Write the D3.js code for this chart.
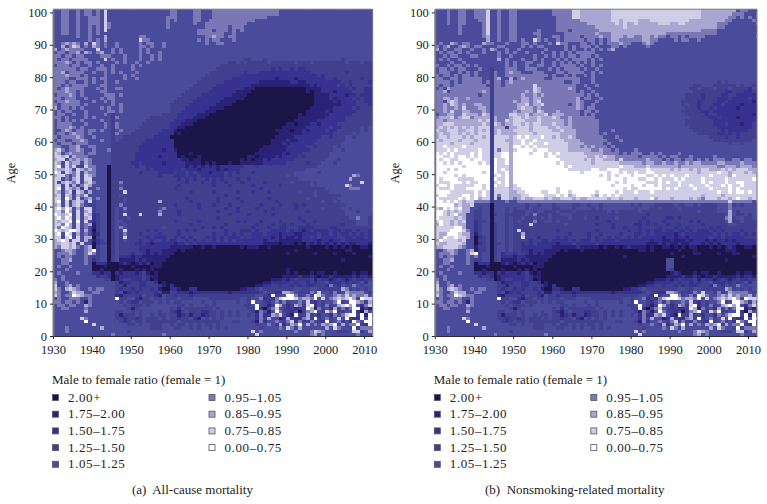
<!DOCTYPE html>
<meta charset="utf-8">
<style>
  body { margin: 0; background: #fff; }
  text { font-family: "Liberation Serif", serif; fill: #222; }
</style>
<body>
<script src="https://d3js.org/d3.v7.min.js"></script>
<script>
// ratio classes, darkest first; cell strings below hold an index into these
var classLabels = ["2.00+", "1.75\u20132.00", "1.50\u20131.75", "1.25\u20131.50", "1.05\u20131.25",
                   "0.95\u20131.05", "0.85\u20130.95", "0.75\u20130.85", "0.00\u20130.75"];
var classColors = ["#1b1647", "#2a2277", "#37328f", "#41408f", "#4b4b9b",
                   "#7a77b6", "#a9a7d1", "#d0cee6", "#ffffff"];
var xTicks = [1930, 1940, 1950, 1960, 1970, 1980, 1990, 2000, 2010];
var yTicks = [0, 10, 20, 30, 40, 50, 60, 70, 80, 90, 100];

// one string per age, 100 down to 0; groups are 193x 194x ... 201x
var allCauseRows = [
"4455445455 4547444444 4444444444 5544445544 4555555555 5555555544 4444444444 4444444444 444",
"4455445455 4547444444 4444444444 5544445544 4555555555 5555555544 4444444444 4444444444 444",
"4455445445 5547444444 4444444445 5544445544 4555555555 5555544444 4444444444 4444444444 444",
"4455445445 5547444444 4444444445 4544445544 5555555555 5544444444 4444444444 4444444444 444",
"4455445445 5547544444 4444444445 4444445445 5555555555 4444444444 4444444444 4444444444 444",
"4455445445 4547544444 4444444445 4444444445 5555545554 4444444444 4444444444 4444444444 444",
"4455445445 4547444444 4444444444 4444444555 5455545454 4444444444 4444444444 4444444444 444",
"4455445445 4544444444 4444444444 4444444555 5555445444 4444444444 4444444444 4444444444 444",
"4444445445 4446444444 4455444444 4444444445 5655455444 4444444444 4444444444 4444444444 444",
"4444444445 4546444444 4475544444 4444444545 4554445444 4444444444 4444444444 4444444444 444",
"4456565464 7545445444 4454554454 4444444445 4455444444 4444444444 4444444444 4444444444 444",
"4464576454 6545445444 4455454454 4444444444 4444444444 4444444444 4444444444 4444444444 444",
"6456555544 4744454544 4454544444 4444444444 4444444444 4444444444 4444444444 4444444444 444",
"4554556465 4564454544 4454544544 4444444444 4444444444 4444444444 4444444444 4444444444 444",
"5545545544 4455544454 4454454544 4444444444 4444444444 4444444444 4444444444 4444444444 444",
"5455455554 4447454454 4454454544 4444444444 4444444443 3444344444 4444444444 4444344444 444",
"5556545455 4544445454 4544544444 4444444444 4444433434 3333343333 3343334333 3333343334 334",
"4555455445 4454454444 5454444444 4444444444 4443333333 3333333333 3333333333 3333333333 333",
"5555554554 4555454444 5444444444 4444444444 4433333333 3333332323 3232233333 3333333333 333",
"5564555544 5445454544 4544444444 4444444444 3333333332 3332222222 2222223333 3333323333 333",
"5556555454 4445444454 5444444444 4444444443 3333333322 2222222222 2222222232 3333333333 333",
"5555445554 5455444454 4544444444 4444444433 3333332222 2222222122 2212222222 3323333332 333",
"5554554454 5445445444 4444444444 4444444333 3333222222 2221111111 1221122222 2222332333 323",
"5545455554 4455444444 4444444444 4444443333 3322222222 2111111111 1111112122 2223232333 333",
"5456555544 4545445544 4444444444 4444433333 3222222221 1100000000 0000011112 2222223233 223",
"5556554544 4455444444 4444444444 4444333333 2222222111 1000000000 0000010112 2212222333 223",
"4555654544 4445554544 4444444444 4443333322 2222221111 0000000000 0000000111 1222212232 223",
"5545554454 4454554444 4444444444 4433333222 2222111110 0000000000 0000000111 1212222323 223",
"4556555444 5445454444 4444444444 4333332222 2221111000 0000000000 0000000111 1121222233 223",
"5455555454 4444454544 4444444444 3333322222 2211110000 0000000000 0000000111 1111222233 323",
"6455454544 4454544544 4444444444 3333222222 1111000000 0000000000 0000001111 1122222323 333",
"4545544454 4444554544 4444444444 3332222221 1100000000 0000000000 0000011111 2122222233 333",
"4554454454 4445434444 4444444433 3322222111 0000000000 0000000000 0001011111 1222222333 333",
"5545444454 5444435444 4444433333 3322221110 0000000000 0000000000 0001111111 2222233333 334",
"4545454544 4454434444 4444333333 3222111000 0000000000 0000000000 0011111122 2222233333 334",
"4555544454 4445435444 4443333333 2221110000 0000000000 0000000000 1101112212 2223333333 334",
"4555654544 4445435444 4433333333 2211000000 0000000000 0000000001 1111122222 2322333334 344",
"4456545545 5454434544 4333333322 2100000000 0000000000 0000000111 1011212222 3223333334 344",
"4554565545 4444435444 3333333222 2010000000 0000000000 0000000011 1111222222 2233333434 444",
"5455556544 5444434433 3333332222 0000000000 0000000000 0000000111 1122222223 3233344344 444",
"4554455654 4454434333 3333222222 2000000000 0000000000 0000001111 2112222233 3333344444 444",
"5455545554 4444433333 3332222222 2000000000 0000000000 0000001112 1222222333 3333444444 444",
"5544556445 5444433333 3322222222 2000000000 0000000000 0000111111 2222233233 3343444444 444",
"6754556544 5444533333 3322222212 2100000000 0000000000 0001111111 2222223333 3344344444 444",
"7645655545 5444433333 3222222222 2200010000 0000000000 0011111112 1222333333 3444444444 444",
"7767465554 4444433333 3222222122 2201000100 0000000000 1101111212 2223233333 3444444444 444",
"6774656565 4444433333 3222222222 2221101100 0000000010 1011212222 2233333333 4443444444 444",
"7647566465 4444433333 2232222212 2222111101 0100010011 1111222222 3333323334 4434444444 444",
"7847574375 5444033333 3233222222 2222121212 1212222223 3323333333 3333333344 4444444444 444",
"7667647656 5444033333 3333232222 2223222122 2212122233 3333333333 3333344444 4444444444 444",
"8747657465 5444033333 3323333222 2322323222 1222323233 3233333333 3344444434 4444444444 444",
"6775457476 5444033333 3333333233 3222322322 2222323333 3333333333 4344444444 4444444654 444",
"7745467477 4444033333 3333333333 3323232332 3232333233 2333333333 3334444444 4444446444 445",
"7467657467 5444033533 3333333333 3333233323 3233233323 3333233333 3433334344 4444444447 444",
"7747464576 4444033433 3333333333 3323333333 3233323333 3233333323 3333334344 4444475444 444",
"7847656374 4544033533 3333333333 3233333333 3333333333 3332333333 3333333333 4444445554 445",
"7646737646 4444033373 3333333333 3333323333 3233333233 3233323333 3334333433 3444444444 444",
"6747646574 4444033433 3333333333 3333333333 3333233333 3333333333 3333333433 3333444444 444",
"7748647456 4544033343 3333333333 3333233333 3323333233 3333323333 3333343333 3334444444 444",
"7847467647 3444033343 3333333633 3333323333 3323333323 3333333233 3333333334 3343444444 445",
"6747467543 3444033533 3333333333 3233333233 3233323333 3332333323 3323233333 3333344444 444",
"7868746477 3444034353 3333333453 3333333233 3333233233 3323332333 3323333334 3333443444 445",
"7758647467 3444034343 3333333533 3323333333 3323333233 3333233333 3333323333 3333344434 444",
"8767847476 2344034373 3373333633 3323333333 3333323333 2333332333 3333333333 3333344444 443",
"7868747467 2344034334 3333333333 3333333333 3323333333 3333333333 3332333333 3333334454 433",
"7677848474 2344034433 3333333333 3233333233 3333333232 3332333323 3333233233 3333333344 433",
"7758647456 1344034343 3333333333 3333323333 3333233333 3323332332 3233323333 3333233344 433",
"7587647454 1344034543 3333333343 3333333323 3232333333 3233323322 3332222333 3223333333 333",
"8767887464 0344034373 3333232333 3323232333 3333233322 2323332222 3232123222 2322322323 323",
"7848746454 1244034353 3323333233 3323333333 3233232323 3222322212 2211222232 2323223232 322",
"7747847466 0344034373 3333232223 3232323332 3232322232 3222221212 1121223232 2223322322 322",
"6787477464 1234034343 3323323323 2233232323 3232323222 2222122211 1111222212 2122322222 223",
"6677674744 0233034333 3223212222 2122323222 2222222222 2222111101 1101021212 1212121122 212",
"6577675456 0344034333 3322222222 1111110010 0100000010 1110010000 0000010000 1010101001 101",
"4456654456 8344034333 3322122211 1101000000 0000000000 0000000000 0010000000 0000011000 000",
"4555654457 5344034333 2332121211 1000000000 0000000000 0000000000 1000000100 0010000100 000",
"4545544454 3344034222 1221111111 0000000000 0000000000 0000000000 0000000000 0000000000 010",
"4455644454 2344034111 1212111110 0000000000 0000000000 0000000000 0000000000 0000100000 000",
"4455444454 0222000121 0121201100 0000000000 0000000000 0000000000 0000000000 0000000000 000",
"4544544444 0001000000 1000011100 0000000000 0000000000 0000000000 0000000000 0000000000 000",
"4445444444 0010000100 0101010000 0000000000 0000000000 0000000000 1000000000 0000000000 000",
"4544445444 2212202122 2123101000 0000000000 0000000000 0000000000 1010001011 0010000101 101",
"4454444444 4233201222 2223211000 0000000000 0000000000 0000000001 1112112101 1211111212 212",
"5454444444 4443301233 2223201000 0000000000 0000000000 0000001112 1232223132 2123212322 332",
"6445444444 4444443122 3322332010 0000000000 0000000000 0000112222 2323323233 4222323234 243",
"7445645444 4444443313 3322333210 2000000000 0000000000 0011223323 3232322333 2532433543 443",
"7546765445 4554443233 2323323100 2210022000 0000000011 2234333333 3344334433 3333653434 344",
"6544576644 5544443412 3233332311 3322212222 2222212222 2223433226 6543335474 4353465555 433",
"7545587655 4444442133 3324332143 3233323333 3333333333 3344328344 8853453875 4456575655 646",
"4544555445 4444448334 4213343343 3343334444 3333333344 3445232578 8875665847 4567678638 778",
"5545545415 4444444343 2243334343 4334444434 4344444344 3844324535 3445473243 4458348865 363",
"4554554465 4444444434 3334344444 4433434443 4344444443 3484313864 2365378243 5346786842 575",
"4455444454 4444444443 1344444444 3424333333 3434444444 3382035743 2322386153 4263535881 314",
"4444444464 4444443344 3434444344 3213433322 3343434344 4315414853 3240356843 7583344820 643",
"4444444444 4444443133 3434434334 3312313312 3343434344 3425226574 2183363424 4254578838 183",
"4444444754 4444443323 3234333434 3323342143 4343444444 4425364412 6322563834 5347483228 487",
"4444444484 4444444323 4334333333 3343333333 3334443344 4315244543 5725335432 8345342854 882",
"4444444444 7444444443 3434433344 3433434343 3434444444 4434454362 4658464546 5683645583 283",
"4445444444 4464444444 4444433344 4334434344 3434344444 4443444454 7536444444 6475443835 555",
"4445444444 4444444443 4444444444 4444444444 4444444444 4745444444 4454445765 4443334773 465",
"4444444444 4444454444 4444444454 4444444444 4444444444 4474444444 4444445645 4444444454 444"
];

var nonsmokingRows = [
"4445445544 5557445445 5444444444 5555577666 6666677777 7777777777 7777777766 6666666455 444",
"4445445544 5557445445 5444444444 5555577666 6666677777 7777777777 7777777766 6666665554 445",
"4445445544 5557445445 5444444444 4555577666 6666677777 7777777777 7777777766 6666655454 545",
"4445445544 4557445445 5444444444 4555555666 6666677677 7766677777 7777766666 6666554444 454",
"4445445544 4457445445 5444444444 4555555556 6666667676 6766666777 6677666666 6655544444 445",
"4444445444 4457445445 5444444444 4555555555 5666666676 6666666666 6666666666 6655444444 444",
"4444445444 4457445445 5444445444 4555455555 5566666666 6666666666 6666666655 5544444444 444",
"4444445444 4457445445 5444455444 4445555555 5655566666 6666666665 5555555555 5544444444 444",
"4444444444 4456445445 5444445444 5545555455 5565566656 6556656554 5545455554 4444444444 445",
"4444444444 4446445445 5454475454 4545555545 5454566555 5556655444 4545544544 4444444444 444",
"4544654554 4465544454 4455454445 4755444554 5454555655 4445654444 4444444444 4444444444 444",
"5456445654 5544445544 4454545544 4445454555 4544455454 4444544444 4444444444 4444444444 444",
"6454455445 4454654454 4544444454 4445454454 5454564444 4444444444 4444444444 4444444444 444",
"4545545454 4454445454 5445444544 5454545555 5444444444 4444444444 4444444444 4444444444 444",
"4454554445 5444445445 4444454454 5454554555 4544444444 4444444444 4444444444 4444444444 444",
"4545445444 4444446454 4454454544 4545455554 5454444444 4444444444 4444444444 4444444444 444",
"4444544544 4444444454 5445544544 5454545454 5444444444 4444444444 4444444444 4444444444 444",
"5445455454 5444444454 5445445544 5455554544 5454444444 4444444444 4444444444 4444444444 444",
"4554545544 4544344455 5445554445 4545555454 4544444444 4444444444 4444444444 4444444444 444",
"4555445454 5444354456 5544455544 4554555544 5454444444 4444444444 4444444444 4444444444 444",
"5455454554 5444354455 5555555554 5445454454 5444444444 4444444444 4444444444 4444444444 444",
"5544554555 5544356446 4565555544 5555555444 5444444444 4444444444 4444444444 4444444444 444",
"5555454555 5545355456 5555555555 5554455444 5444444444 4444444444 4444444444 4434344444 444",
"5455455555 5554355455 5555575555 5555554454 4544444444 4444444444 4444443344 4333333434 434",
"4546555555 5555355555 5555576555 5555654445 4444444444 4444444444 4444433433 3433343333 243",
"5564555555 5565355555 5556576555 5555554544 5444444444 4444444444 4444443333 3333223332 233",
"5555555555 5455355555 5565565655 5555555545 4544444444 4444444444 4444333323 3332233222 222",
"5566565565 5555355555 5566566555 5555556455 4454444444 4444444444 4444333323 3322232222 322",
"5546765555 5555355555 6566567555 5555556544 4544444444 4444444444 4443333233 3322322222 212",
"5565765655 6655355555 5667566755 5555456544 5444444444 4444444444 4443433233 3223222212 222",
"5565565755 5665355555 5676656555 5555556545 5444444444 4444444444 4444333233 2322222122 222",
"5565755665 5565355555 6566657655 5655555455 4544444444 4444444444 4443333322 3222222222 222",
"4556655766 6576355557 7667566675 6665555454 5444444444 4444444444 4444333332 3322222222 212",
"5666756775 6666365556 7767667666 7655655555 5444444444 4444444444 4444433333 2232222122 222",
"6656666666 6767365576 7776667666 6665655555 5544444444 4444444444 4444333333 3222222222 223",
"6677766666 6676376566 7767677666 7665655555 5544444444 4444444444 4444333333 3222322212 233",
"6767676767 6777366636 6777677776 6766655555 5544444444 4444444444 4444433333 3322222222 233",
"7667776677 6767367666 7777677777 6676665555 5544454444 4444444444 4444443333 3332322222 333",
"6766776767 6777367666 6777767777 7766665555 5545444444 4444444444 4444444333 3322323233 333",
"6776777676 7767377776 7878777877 6766765555 5554445444 4444444444 4444444444 3333233233 333",
"7677776777 6777377766 7787787777 7776666555 5555444544 4444444444 4444444444 4333333333 343",
"7777677776 7777377776 7787877787 7777666655 5554544444 4444444444 4444444444 4444434434 444",
"7787777877 7777377776 8878787777 7777666565 6555454444 4444444444 4444444444 4444444444 444",
"7778787777 7877375776 7888878887 7777666666 5565545444 4544444444 4444444444 4444444444 444",
"8787877778 7877377886 8888788878 7877777766 6665555454 5554454544 4454444444 4444444444 444",
"8877878878 7877377886 8888888878 8777777776 6767665555 5545555454 5544454444 4544444444 444",
"8788778887 8877387786 8888888888 8877777767 6776665755 5555655545 4554554545 4555445545 544",
"8878787888 8787387786 8888888888 8787777777 6777777666 6665665565 5655656655 5566555565 555",
"8888888788 8888387776 8888888888 8887877777 7777777877 7666766666 6656666666 6655666566 655",
"8887878888 8888387876 8888888888 8888777777 8877888777 7777877777 6767767677 6667676777 667",
"8878888888 8878387786 8888888888 8888888788 8888788787 7877887777 7777777677 7787767776 766",
"8888878788 8888378786 8888888888 8888888888 8878787888 7888778787 8777877777 8777768777 776",
"8788887777 8888387786 8888888888 8888888888 8888788878 8877887877 7878777787 7777877777 787",
"8777888787 7888378786 8888888888 8888888888 8888887878 8888777878 7787777787 8777877887 777",
"7887877777 8878387786 7888888888 8888888888 8888878888 7887887877 7787787778 7778787787 777",
"8777877788 8878377776 7788888888 8788888888 8888888878 7788888878 7877778777 8777787877 777",
"8888777777 8787377776 6778888778 8788788888 8788887877 7877787777 7777777777 7787787887 877",
"7887777887 8787375776 6677888877 7878678888 7687878777 7777777777 7777777767 7776777777 777",
"8777778787 8677374776 5676677767 6677767667 7777677677 7677786777 6777767657 7767767877 677",
"8878787677 5555344454 4555555555 5555555555 5555555555 5555555555 5555555555 5555575555 545",
"8888867667 4444044444 4443443444 3444433443 4434444444 3434443333 3433443433 3344453434 444",
"7687878664 4344044434 3443434444 3344434444 3434444444 4344433433 3343333333 3344454444 444",
"8876767664 3344044434 3334434433 3433343333 3333434333 3343333333 3333333433 3344464344 444",
"8876786644 3344034433 3334353334 3344433333 3333333333 3333233333 3333333333 3333464334 344",
"8777767644 3344044434 3343343434 3333433343 3233334333 3332333332 2323333333 3333563443 343",
"7877676744 2334044434 3433353344 3433333333 3333233333 3323233323 3333323233 3333463343 332",
"6877676644 2344034434 3333733333 3334333333 3233323333 3223232332 3323333323 3333344333 332",
"7777788644 2344034434 3333333333 3333333333 3333323323 3323333233 3233233333 2323333333 332",
"7777888754 2344034434 3733333333 3233333333 3233333332 3323232232 2322323222 3232333323 333",
"7668887664 1344034434 3363333333 3333233332 3323333233 3223232222 2123222222 2323232232 323",
"7687787764 0234034434 3373332333 3232333332 3233232332 3232222212 2122122222 3223222223 332",
"6877776744 0334034434 3333233223 2222323222 3232223222 2222212211 2111212221 2122121222 222",
"7667777644 0234033434 3323232222 2122232222 2322222222 2222111212 1121122212 1212222122 222",
"6677776544 1334034434 3322222222 1111112111 1101001012 1111010011 0101011000 1010121001 101",
"4456654456 1334034434 3322122211 1101000100 0000000000 0011010000 0010001000 0000111000 000",
"4555654457 8344034233 2332121211 1000000000 0000000000 0000000000 1000001100 0010001100 000",
"4545544454 5344034222 1221111111 0000000000 0000000010 0000000000 0001000000 0000000000 010",
"4455644454 3344034111 1212111110 0000000000 0000000000 0000000004 4000000000 0000100000 000",
"4455444454 0222000121 0121201100 0000000000 0000000000 0000000004 4000000000 0000000000 000",
"4544544444 0001000000 1000011100 0000000000 0000000000 0000000004 4000000000 0000000000 000",
"4445444444 0010000100 0101010000 0000000000 0000000000 0000000004 3000000000 0000000000 000",
"4544445444 2212202122 2123101000 0000000000 0000000000 0000000000 1210001011 0010000101 101",
"4454444444 4233201222 2223211000 0000000000 0000000000 0000000001 1112112101 1211111212 212",
"5454444444 4443301233 2223201000 0000000000 0000000000 0000001112 1232223132 2123212322 332",
"6445444444 4444443122 3322332010 0000000000 0000000000 0000112222 2323323233 4222323234 243",
"7445645444 4444443313 3322333210 2000000000 0000000000 0011223323 3232322333 2532433543 443",
"7546765445 4554443233 2323323100 2210022000 0000000011 2234333333 3344334433 3333653434 344",
"6544576644 5544443412 3233332311 3322212222 2222212222 2223433226 6543335474 4353465555 433",
"7545587655 4444442133 3324332143 3233323333 3333333333 3344328344 8853453875 4456575655 646",
"4544555445 4444448334 4213343343 3343334444 3333333344 3445232578 8875665847 4567678638 778",
"5545545415 4444444343 2243334343 4334444434 4344444344 3844324535 3445473243 4458348865 363",
"4554554465 4444444434 3334344444 4433434443 4344444443 3484313864 2365378243 5346786842 575",
"4455444454 4444444443 1344444444 3424333333 3434444444 3382035743 2322386153 4263535881 314",
"4444444464 4444443344 3434444344 3213433322 3343434344 4315414853 3240356843 7583344820 643",
"4444444444 4444443133 3434434334 3312313312 3343434344 3425226574 2183363424 4254578838 183",
"4444444754 4444443323 3234333434 3323342143 4343444444 4425364412 6322563834 5347483228 487",
"4444444484 4444444323 4334333333 3343333333 3334443344 4315244543 5725335432 8345342854 882",
"4444444444 7444444443 3434433344 3433434343 3434444444 4434454362 4658464546 5683645583 283",
"4445444444 4464444444 4444433344 4334434344 3434344444 4443444454 7536444444 6475443835 555",
"4445444444 4444444443 4444444444 4444444444 4444444444 4745444444 4454445765 4443334773 465",
"4444444444 4444454444 4444444454 4444444444 4444444444 4474444444 4444445645 4444444454 444"
];

var color = d3.scaleOrdinal().domain(d3.range(9)).range(classColors);
var svg = d3.select("body").append("svg").attr("width", 767).attr("height", 504);

function drawPanel(rows, left, right, yearMax, labelX, caption, captionX, i) {
  var x = d3.scaleLinear().domain([1930, yearMax]).range([left, right]);
  var y = d3.scaleLinear().domain([0, 101]).range([336, 9.2]);
  var g = svg.append("g");

  svg.append("clipPath").attr("id", "clip" + i).append("rect")
      .attr("x", left).attr("y", 9.2).attr("width", right - left).attr("height", 326.8);

  var cells = [];
  rows.forEach(function(r, k) {
    var s = r.replace(/ /g, "");
    for (var c = 0; c < 83; c++) cells.push({year: 1930 + c, age: 100 - k, v: +s[c]});
  });

  g.append("g").attr("clip-path", "url(#clip" + i + ")")
    .attr("shape-rendering", "crispEdges")
    .selectAll("rect").data(cells)
    .enter().append("rect")
      .attr("x", function(d) { return x(d.year); })
      .attr("y", function(d) { return y(d.age + 1); })
      .attr("width", x(1931) - x(1930) + 0.5)
      .attr("height", y(0) - y(1) + 0.5)
      .attr("fill", function(d) { return color(d.v); });

  // frame
  g.append("path").attr("fill", "none").attr("stroke", "#77777f").attr("stroke-width", 1)
    .attr("d", "M" + left + ",9.2H" + right + "V336");

  var xAxis = g.append("g").attr("transform", "translate(0,336)")
    .call(d3.axisBottom(x).tickValues(xTicks).tickFormat(d3.format("d")).tickSize(3).tickSizeOuter(0));
  var yAxis = g.append("g").attr("transform", "translate(" + left + ",0)")
    .call(d3.axisLeft(y).tickValues(yTicks).tickSize(3).tickSizeOuter(0));
  xAxis.selectAll("text").attr("dy", "0.78em").attr("y", 8).style("font-family", "Liberation Serif").style("font-size", "12.5px");
  yAxis.selectAll("text").attr("x", -6).style("font-family", "Liberation Serif").style("font-size", "12.5px");
  xAxis.select(".domain").attr("stroke", "#2a2a3a");
  yAxis.select(".domain").attr("stroke", "#77777f").attr("stroke-width", 2);
  xAxis.selectAll("line").attr("stroke", "#222");
  yAxis.selectAll("line").attr("stroke", "#222");

  g.append("text").attr("transform", "translate(" + labelX + ",173) rotate(-90)")
    .attr("text-anchor", "middle").attr("font-size", 12.5).text("Age");

  // legend
  var lg = g.append("g");
  lg.append("text").attr("x", left - 1).attr("y", 384).attr("font-size", 13).text("Male to female ratio (female = 1)");
  var items = lg.selectAll("g").data(classLabels).enter().append("g")
    .attr("transform", function(d, j) {
      var col = j < 5 ? 0 : 1;
      return "translate(" + (left - 1 + col * 156.5) + "," + (397.5 + 16.7 * (j < 5 ? j : j - 5)) + ")";
    });
  items.append("rect").attr("x", 0.5).attr("y", -3).attr("width", 6).attr("height", 6)
    .attr("fill", function(d, j) { return classColors[j]; })
    .attr("stroke", "#55555f").attr("stroke-width", 0.8);
  items.append("text").attr("x", 16).attr("y", 4).attr("font-size", 13)
    .style("letter-spacing", "0.6px").text(function(d) { return d; });

  g.append("text").attr("x", captionX).attr("y", 494).attr("font-size", 13).attr("xml:space", "preserve").text(caption);
}

drawPanel(allCauseRows, 53, 372.7, 2012.2, 15, "(a)  All-cause mortality", 132, 0);
drawPanel(nonsmokingRows, 434.8, 757, 2012.3, 399, "(b)  Nonsmoking-related mortality", 485, 1);
</script>
</body>
</html>
